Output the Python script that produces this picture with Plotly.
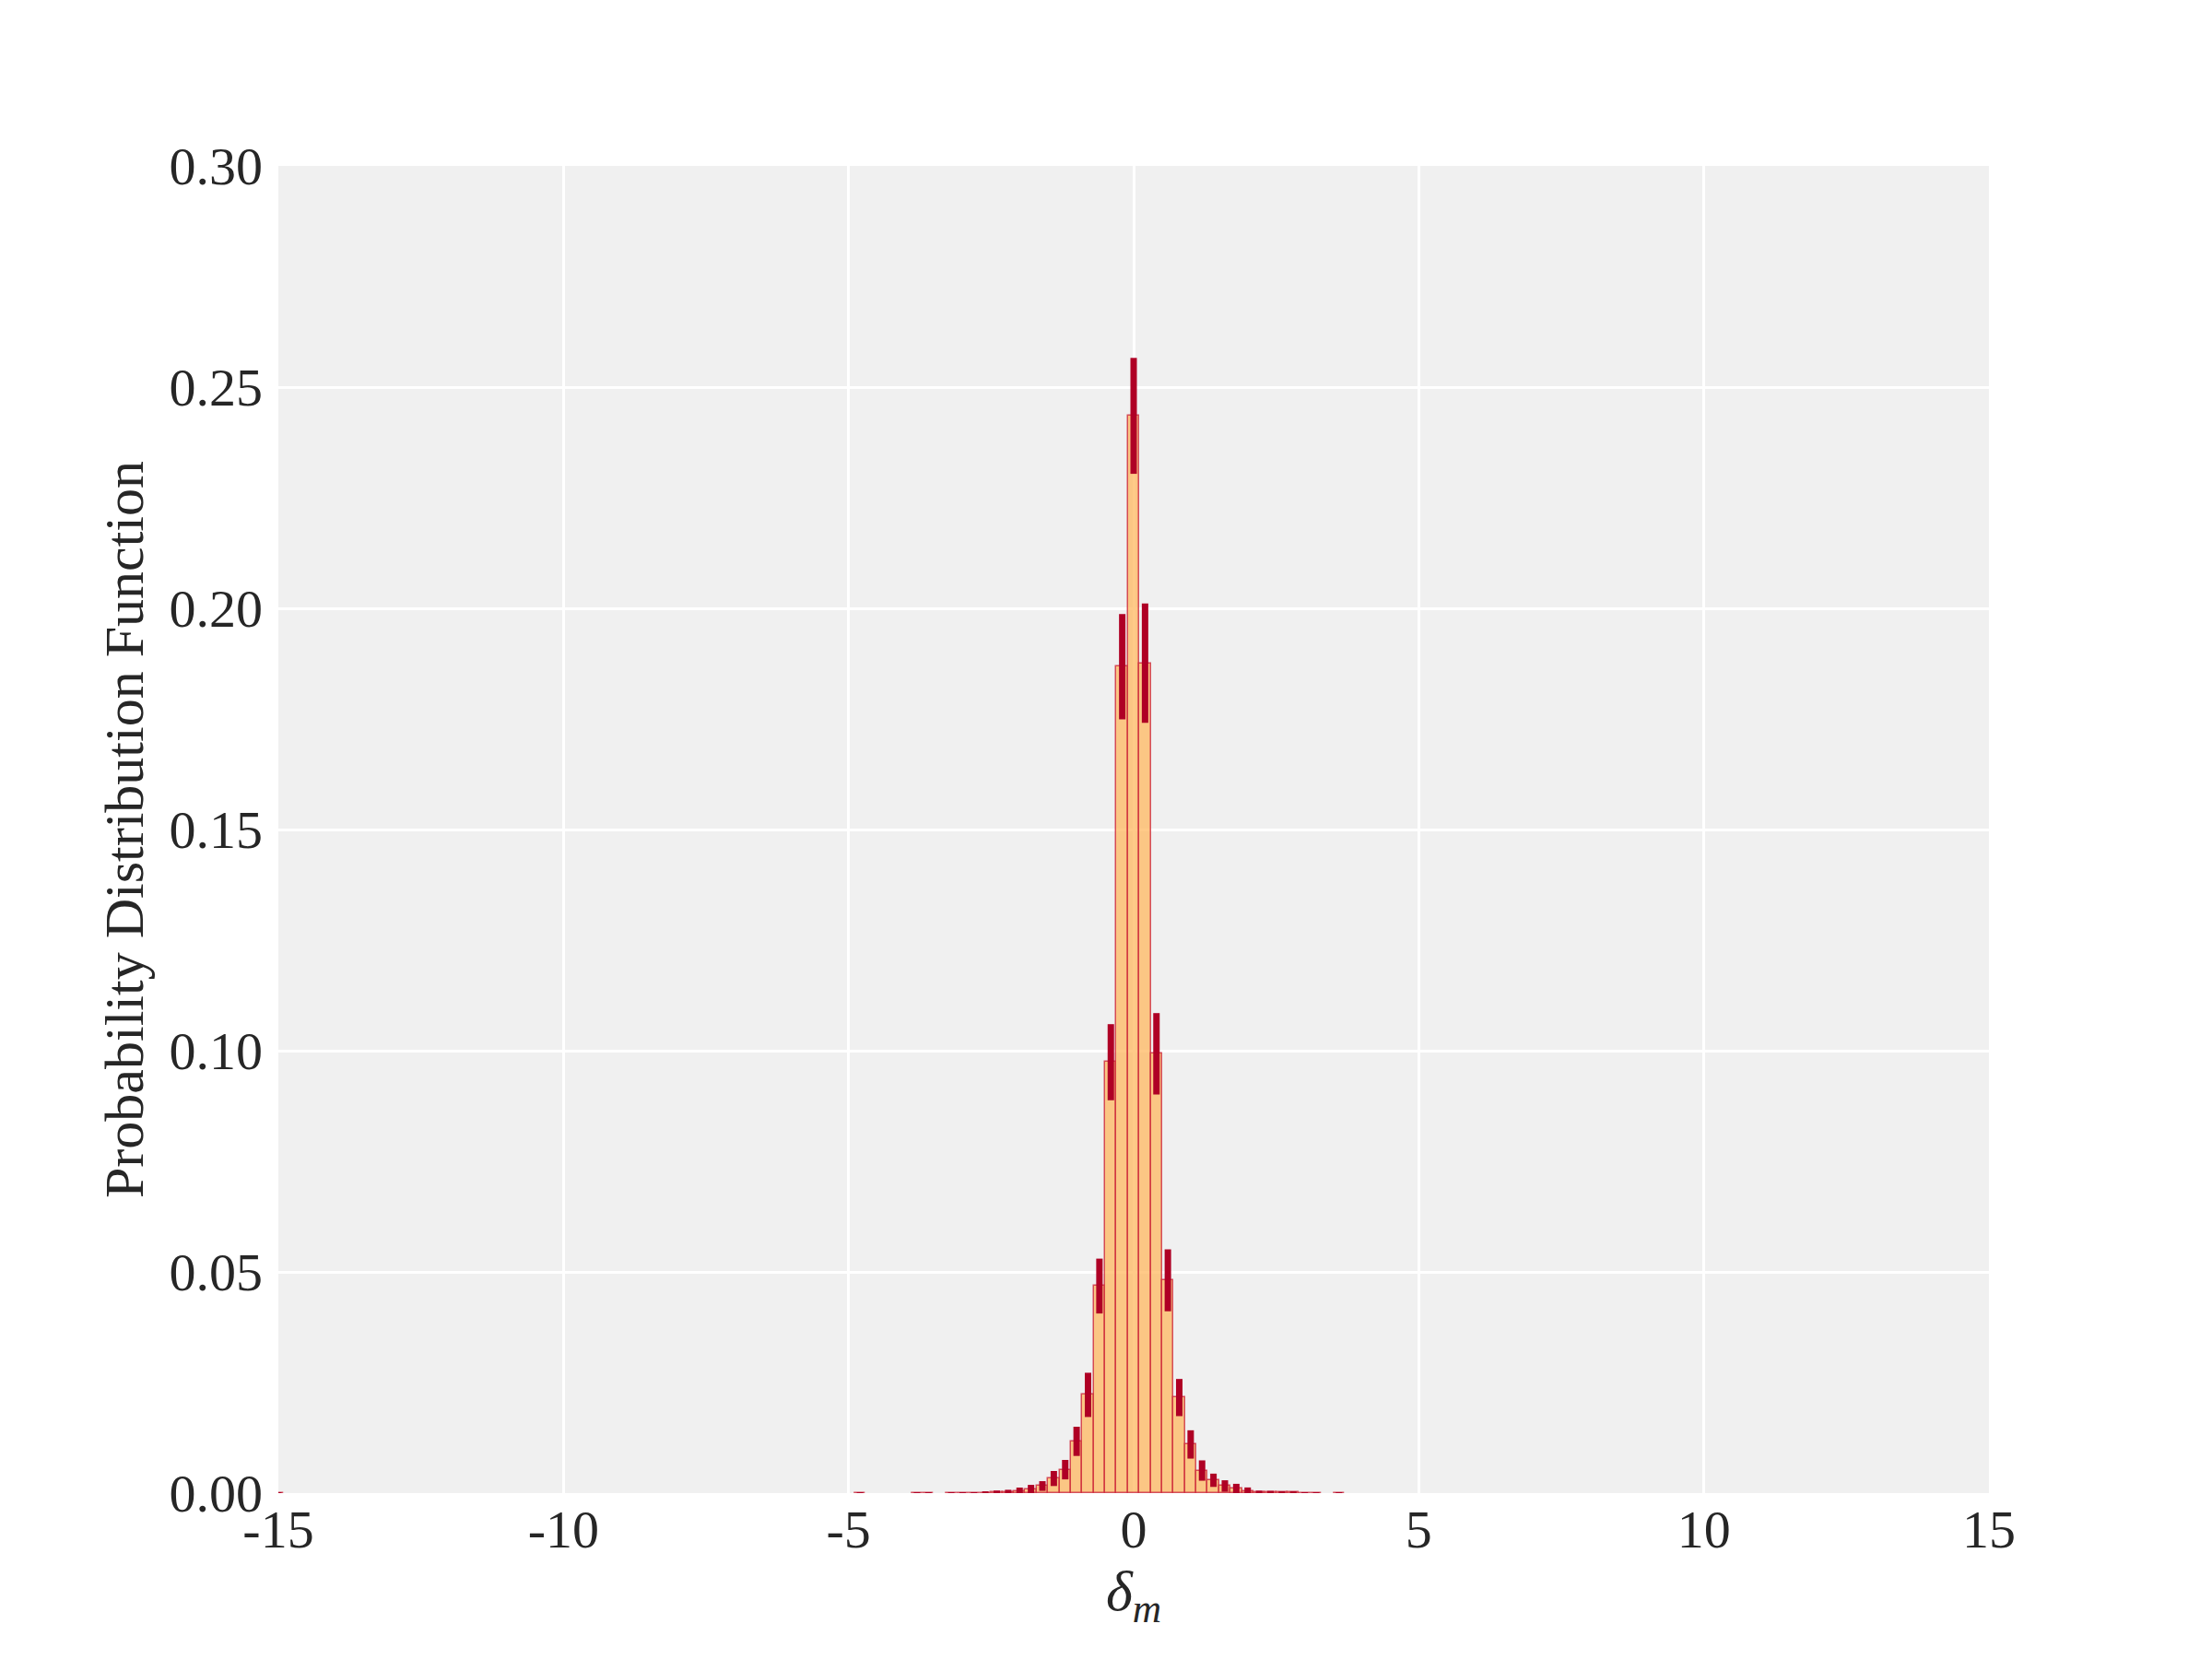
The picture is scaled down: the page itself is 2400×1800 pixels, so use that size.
import plotly.graph_objects as go

# centros de los bins (ancho 0.2)
bin_centers = [-15.0, -4.8, -3.8, -3.6, -3.2, -3.0, -2.8, -2.6, -2.4, -2.2,
               -2.0, -1.8, -1.6, -1.4, -1.2, -1.0, -0.8, -0.6, -0.4, -0.2,
               0.0, 0.2, 0.4, 0.6, 0.8, 1.0, 1.2, 1.4, 1.6, 1.8,
               2.0, 2.2, 2.4, 2.6, 2.8, 3.0, 3.2, 3.6]

pdf_values = [0.0001, 0.0001, 0.0001, 0.0001, 0.0001, 0.0001, 0.0001, 0.0001, 0.00012, 0.00015,
              0.00035, 0.00076, 0.0016, 0.0033, 0.0053, 0.0117, 0.0222, 0.0468, 0.0974, 0.1868,
              0.2435, 0.1876, 0.0993, 0.0481, 0.0216, 0.0110, 0.0051, 0.0029, 0.0016, 0.0010,
              0.00038, 0.0002, 0.0002, 0.00015, 0.00015, 0.0001, 0.0001, 0.0001]

pdf_errors = [0.0001, 0.0001, 0.0001, 0.0001, 0.0001, 0.0001, 0.0001, 0.0003, 0.00045, 0.0006,
              0.0009, 0.0011, 0.0011, 0.0017, 0.0022, 0.0033, 0.0050, 0.0062, 0.0086, 0.0119,
              0.0131, 0.0135, 0.0092, 0.0070, 0.0042, 0.0032, 0.0023, 0.0015, 0.0013, 0.0011,
              0.0009, 0.00035, 0.0003, 0.00025, 0.00025, 0.0001, 0.0001, 0.0001]

x_ticks = [-15, -10, -5, 0, 5, 10, 15]
x_tick_labels = ['-15', '-10', '-5', '0', '5', '10', '15']
y_ticks = [0.0, 0.05, 0.10, 0.15, 0.20, 0.25, 0.30]

font_family = 'Liberation Serif'
text_color = '#262626'

fig = go.Figure()
fig.add_trace(go.Bar(
    x=bin_centers,
    y=pdf_values,
    width=0.2,
    marker=dict(color='rgba(255,180,85,0.7)',
                line=dict(color='rgba(205,40,60,0.8)', width=1.5)),
    error_y=dict(type='data', array=pdf_errors, visible=True,
                 color='#AF0025', thickness=7, width=0),
    showlegend=False
))

# la pagina tiene un margen de 8px, se descuenta aqui
fig.update_layout(
    width=2400,
    height=1800,
    margin=dict(l=294, r=250, t=172, b=188),
    paper_bgcolor='white',
    plot_bgcolor='#F0F0F0',
    bargap=0,
    font=dict(family=font_family, size=58, color=text_color),
    xaxis=dict(
        range=[-15, 15],
        tickvals=x_ticks,
        ticktext=x_tick_labels,
        tickfont=dict(family=font_family, size=58, color=text_color),
        showgrid=True, gridcolor='white', gridwidth=3,
        zeroline=False, showline=False, ticks='',
        title=dict(text='<i>δ</i><sub><i>m</i></sub>', standoff=6,
                   font=dict(family=font_family, size=62, color=text_color)),
    ),
    yaxis=dict(
        range=[0, 0.30],
        tickvals=y_ticks,
        tickformat='.2f',
        tickfont=dict(family=font_family, size=58, color=text_color),
        showgrid=True, gridcolor='white', gridwidth=3,
        zeroline=False, showline=False, ticks='',
        ticklabelstandoff=16,
        title=dict(text='Probability Distribution Function', standoff=8,
                   font=dict(family=font_family, size=60, color=text_color)),
    ),
)

fig.write_html("out.html")
